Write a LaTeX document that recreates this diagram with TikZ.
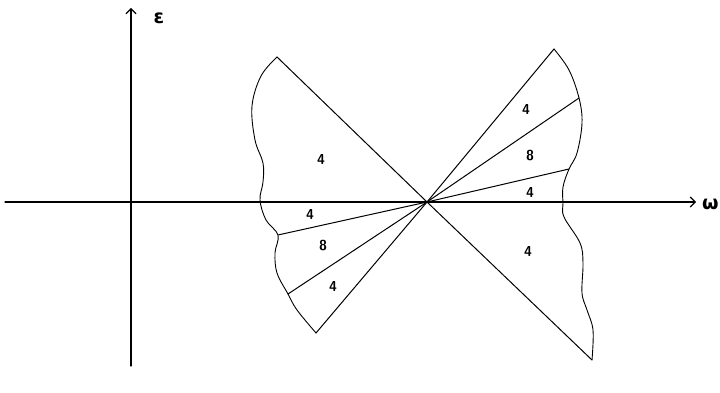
\documentclass[tikz,border=0pt]{standalone}
\usepackage{fontspec}
\newfontfamily\greekfont{DejaVu Sans}
\usetikzlibrary{arrows.meta,calc}
\tikzset{
  axis/.style={line width=1.1pt,-{Straight Barb[length=5pt,width=10pt,line width=1.1pt]}},
  edge/.style={line width=1pt},
  wing/.style={line width=.9pt,smooth,tension=.6},
  count/.style={font=\sffamily\bfseries\Large,inner sep=1pt},
  axlabel/.style={font=\greekfont\bfseries\fontsize{19}{21}\selectfont,inner sep=0pt}
}

\begin{document}
\begin{tikzpicture}[x=1pt,y=-1pt,line cap=round,line join=round]
  \path[use as bounding box] (0,0) rectangle (720,393);

  % axes
  \coordinate (xs) at (5,202);
  \coordinate (xe) at (696,202);
  \coordinate (ys) at (131,366);
  \coordinate (ye) at (131,8);
  \draw[axis] (xs) -- (xe);
  \draw[axis] (ys) -- (ye);
  \node[axlabel,anchor=west] (w) at (702,204) {ω};
  \node[axlabel] (e) at (159,18) {ε};

  % rays from the crossing point
  \coordinate (O) at (427,202);
  \foreach \n/\px/\py in {LT/277/57,L1/278/235,L2/288/294,LB/316/333,
                          RT/554/49,R1/579/98,R2/569/169,RB/592/360}{
    \coordinate (\n) at (\px,\py);
    \draw[edge] (O) -- (\n);
  }

  % wavy edges of the two wings
  \draw[wing] plot coordinates {(277,57) (261,76) (252,106) (255,140) (263,163)
    (263,182) (260,200) (266,220) (278,235) (275,253) (277,273) (288,294)
    (297,310) (316,333)};
  \draw[wing] plot coordinates {(554,49) (569,70) (579,98) (582,123) (577,153)
    (569,169) (563,187) (563,203) (564,217) (580,243) (583,263) (582,293)
    (587,310) (593,330) (592,360)};

  % multiplicities
  \node[count] (l1) at (321,160) {4};
  \node[count] (l2) at (310,215) {4};
  \node[count] (l3) at (323,246) {8};
  \node[count] (l4) at (333,287) {4};
  \node[count] (r1) at (526,110) {4};
  \node[count] (r2) at (530,156) {8};
  \node[count] (r3) at (530,193) {4};
  \node[count] (r4) at (528,252) {4};
\end{tikzpicture}
\end{document}
